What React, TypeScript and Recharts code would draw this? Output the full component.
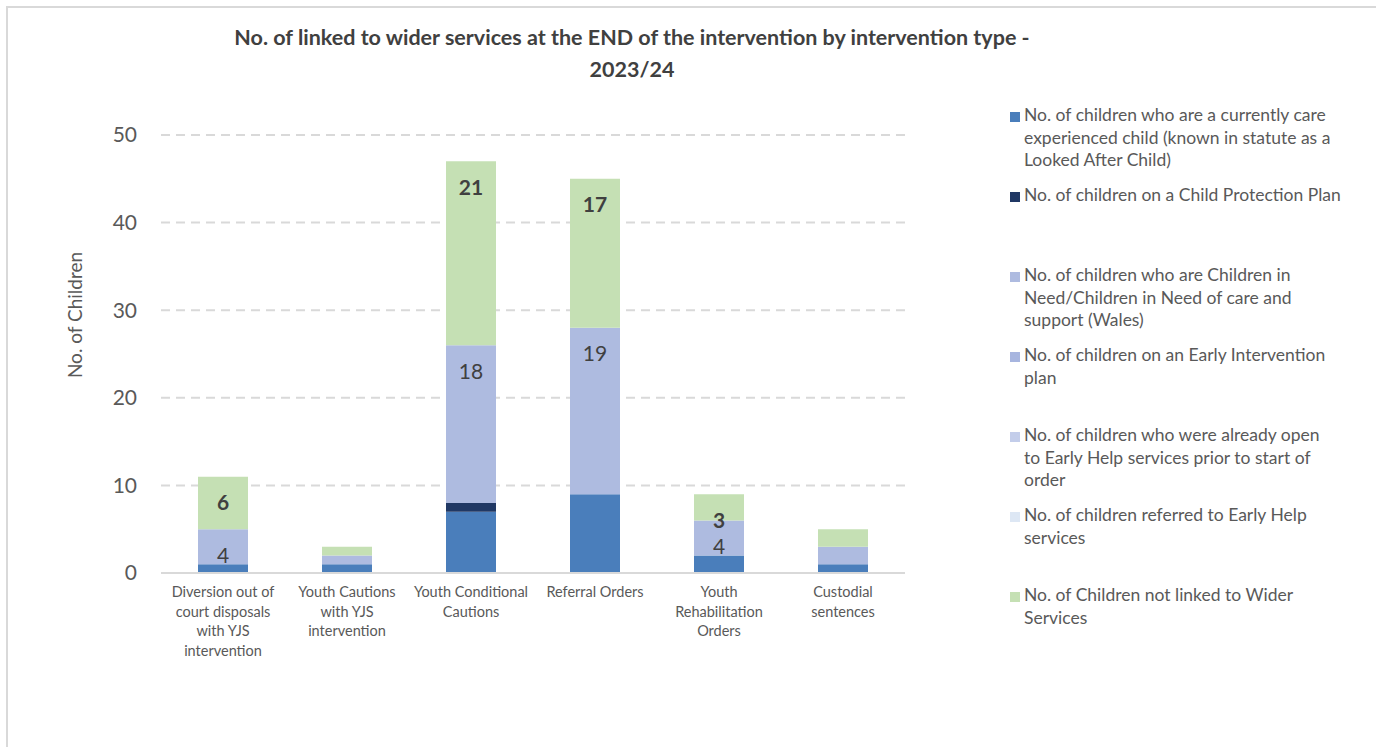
import React from "react";
import { BarChart, Bar, XAxis, YAxis, CartesianGrid, LabelList } from "recharts";

const categoryLines = [
  ["Diversion out of", "court disposals", "with YJS", "intervention"],
  ["Youth Cautions", "with YJS", "intervention"],
  ["Youth Conditional", "Cautions"],
  ["Referral Orders"],
  ["Youth", "Rehabilitation", "Orders"],
  ["Custodial", "sentences"],
];
const categories = categoryLines.map((l) => l.join(" "));

const careExperienced = [1, 1, 7, 9, 2, 1];
const childProtection = [0, 0, 1, 0, 0, 0];
const childrenInNeed = [4, 1, 18, 19, 4, 2];
const earlyIntervention = [0, 0, 0, 0, 0, 0];
const earlyHelpOpen = [0, 0, 0, 0, 0, 0];
const earlyHelpReferred = [0, 0, 0, 0, 0, 0];
const notLinked = [6, 1, 21, 17, 3, 2];

const yTicks = [0, 10, 20, 30, 40, 50];

// legend names, broken into lines the way the original legend wraps them
const series = [
  { key: "care", values: careExperienced, color: "#4a7ebb", name: ["No. of children who are a currently care", "experienced child (known in statute as a", "Looked After Child)"] },
  { key: "cpp", values: childProtection, color: "#203864", name: ["No. of children on a Child Protection Plan"] },
  { key: "cin", values: childrenInNeed, color: "#aebbe0", name: ["No. of children who are Children in", "Need/Children in Need of care and", "support (Wales)"], label: "normal" },
  { key: "eip", values: earlyIntervention, color: "#a7b5df", name: ["No. of children on an Early Intervention", "plan"] },
  { key: "ehOpen", values: earlyHelpOpen, color: "#c3cdea", name: ["No. of children who were already open", "to Early Help services prior to start of", "order"] },
  { key: "ehReferred", values: earlyHelpReferred, color: "#dde7f4", name: ["No. of children referred to Early Help", "services"] },
  { key: "notLinked", values: notLinked, color: "#c5e0b4", name: ["No. of Children not linked to Wider", "Services"], label: "bold" },
];

const data = categories.map((c, i) => {
  const row: Record<string, any> = { category: c };
  series.forEach((s) => (row[s.key] = s.values[i]));
  return row;
});

const FONT = "Lato, 'Open Sans', sans-serif";
const TEXT = "#595959";

const renderXTick = (props: any) => {
  const { x, y, index } = props;
  const lines = categoryLines[index] || [];
  return (
    <text x={x} y={y + 16} textAnchor="middle" fill={TEXT} fontSize={14.5} fontFamily={FONT}>
      {lines.map((l, i) => (
        <tspan key={i} x={x} dy={i === 0 ? 0 : 19.5}>
          {l}
        </tspan>
      ))}
    </text>
  );
};

const segLabel = (weight: string) => (props: any) => {
  const { x, y, width, value } = props;
  if (!(value >= 3)) return null;
  return (
    <text
      x={Number(x) + Number(width) / 2}
      y={Number(y) + 28}
      textAnchor="middle"
      dominantBaseline="middle"
      fill="#404040"
      fontSize={21}
      fontWeight={weight === "bold" ? 700 : 400}
      fontFamily={FONT}
    >
      {value}
    </text>
  );
};

export default function App() {
  return (
    <div
      style={{
        position: "absolute",
        left: 6,
        top: 6,
        width: 1370,
        height: 741,
        borderTop: "2px solid #d9d9d9",
        borderLeft: "2px solid #d9d9d9",
        fontFamily: FONT,
        overflow: "hidden",
        background: "#fff",
      }}
    >
      <div
        style={{
          position: "absolute",
          left: 124,
          width: 1000,
          top: 13,
          textAlign: "center",
          fontWeight: 700,
          fontSize: 21.5,
          lineHeight: "32px",
          color: "#404040",
        }}
      >
        No. of linked to wider services at the END of the intervention by intervention type -
        <br />
        2023/24
      </div>
      <div
        style={{
          position: "absolute",
          left: 67 - 90,
          top: 307 - 13,
          width: 180,
          height: 26,
          lineHeight: "26px",
          textAlign: "center",
          transform: "rotate(-90deg)",
          fontSize: 19,
          color: TEXT,
        }}
      >
        No. of Children
      </div>
      <BarChart
        width={1368}
        height={739}
        data={data}
        margin={{ top: 127, right: 471, left: 0, bottom: 74 }}
        barSize={50}
      >
        <CartesianGrid vertical={false} stroke="#d9d9d9" strokeWidth={2} strokeDasharray="9 6" />
        <XAxis
          dataKey="category"
          height={100}
          interval={0}
          tickLine={false}
          axisLine={{ stroke: "#d9d9d9", strokeWidth: 2 }}
          tick={renderXTick}
        />
        <YAxis
          width={153}
          domain={[0, 50]}
          ticks={yTicks}
          axisLine={false}
          tickLine={false}
          tickMargin={18}
          tick={{ fill: TEXT, fontSize: 21, fontFamily: FONT }}
        />
        {series.map((s) => (
          <Bar key={s.key} dataKey={s.key} stackId="a" fill={s.color} isAnimationActive={false}>
            {s.label ? <LabelList dataKey={s.key} content={segLabel(s.label)} /> : null}
          </Bar>
        ))}
      </BarChart>
      <div style={{ position: "absolute", left: 1002, top: 97, width: 360 }}>
        {series.map((s) => (
          <div key={s.key} style={{ height: 80, display: "flex", alignItems: "flex-start" }}>
            <div style={{ width: 10, height: 10, background: s.color, marginTop: 7, marginRight: 4, flexShrink: 0 }} />
            <div style={{ fontSize: 17.5, lineHeight: "22.5px", color: TEXT, whiteSpace: "nowrap", marginTop: -1 }}>
              {s.name.map((line, i) => (
                <div key={i}>{line}</div>
              ))}
            </div>
          </div>
        ))}
      </div>
    </div>
  );
}
